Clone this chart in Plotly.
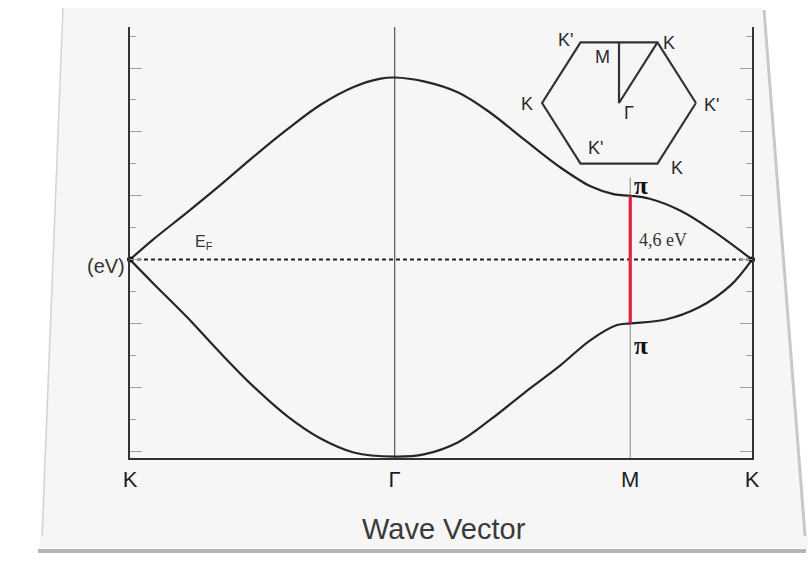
import plotly.graph_objects as go

# High-symmetry points along the path K - Γ - M - K
K_POS = [0.0, 1.0, 1.89, 2.35]
K_LABELS = ["K", "Γ", "M", "K"]

# π band (upper, anti-bonding) energies in eV
k_upper = [0.0, 0.087, 0.216, 0.341, 0.466, 0.595, 0.72, 0.845, 0.947, 1.0,
           1.11, 1.24, 1.36, 1.49, 1.62, 1.74, 1.83, 1.89, 1.96, 2.08, 2.20, 2.35]
e_upper = [0.0, 0.72, 1.70, 2.68, 3.70, 4.70, 5.58, 6.22, 6.52, 6.56,
           6.42, 6.02, 5.30, 4.32, 3.36, 2.64, 2.35, 2.30, 2.20, 1.76, 1.05, 0.0]

# π band (lower, bonding) energies in eV
k_lower = [0.0, 0.087, 0.216, 0.341, 0.466, 0.595, 0.72, 0.845, 1.0,
           1.11, 1.24, 1.36, 1.49, 1.62, 1.74, 1.84, 1.89, 2.02, 2.15, 2.27, 2.35]
e_lower = [0.0, -0.85, -2.08, -3.36, -4.57, -5.65, -6.45, -6.95, -7.10,
           -7.02, -6.58, -5.78, -4.80, -3.86, -2.90, -2.36, -2.30, -2.17, -1.72, -0.92, 0.0]

GAP_EV = 4.6          # π - π* splitting at M
E_FERMI = 0.0
M_LINE_TOP = 2.95
E_RANGE = [-7.15, 8.38]

# First Brillouin zone (hexagon) and the irreducible path
hex_u = [1.0, 0.5, -0.5, -1.0, -0.5, 0.5, 1.0]
hex_v = [0.0, 0.866, 0.866, 0.0, -0.866, -0.866, 0.0]
path_u = [0.0, 0.0, 0.5]          # M -> Γ -> K
path_v = [0.866, 0.0, 0.866]
bz_labels = ["K'", "K", "K", "K'", "K'", "K", "M", "Γ"]
bz_lab_u = [-0.70, 0.65, -1.19, 1.20, -0.31, 0.76, -0.21, 0.13]
bz_lab_v = [0.90, 0.86, -0.01, -0.03, -0.64, -0.93, 0.66, -0.14]

W, H = 808, 562
L, R, T, B = 130, 56, 27, 104
PW, PH = W - L - R, H - T - B


def fx(px):
    return (px - L) / PW


def fy(py):
    return (H - B - py) / PH


SANS = "Liberation Sans, Arial, sans-serif"
SERIF = "Liberation Serif, Times New Roman, serif"
INK = "#262626"

fig = go.Figure()

# Γ and M reference lines
fig.add_trace(go.Scatter(x=[K_POS[1], K_POS[1]], y=E_RANGE, mode="lines",
                         line=dict(color="#555555", width=1.2), hoverinfo="skip"))
fig.add_trace(go.Scatter(x=[K_POS[2], K_POS[2]], y=[E_RANGE[0], M_LINE_TOP], mode="lines",
                         line=dict(color="#8f9f90", width=1.2), hoverinfo="skip"))

# Fermi level
fig.add_trace(go.Scatter(x=[K_POS[0], K_POS[-1]], y=[E_FERMI, E_FERMI], mode="lines",
                         line=dict(color="#222222", width=2, dash="4px,3px"), hoverinfo="skip"))

# Bands
for kk, ee in ((k_upper, e_upper), (k_lower, e_lower)):
    fig.add_trace(go.Scatter(x=kk, y=ee, mode="lines",
                             line=dict(color=INK, width=2.2, shape="spline", smoothing=1.0),
                             hoverinfo="skip"))

# Gap at M
fig.add_trace(go.Scatter(x=[K_POS[2], K_POS[2]], y=[GAP_EV / 2, -GAP_EV / 2], mode="lines",
                         line=dict(color="#e0203c", width=3.2), hoverinfo="skip"))

# Dirac points
fig.add_trace(go.Scatter(x=[K_POS[0], K_POS[-1]], y=[E_FERMI, E_FERMI], mode="markers",
                         marker=dict(color="#111111", size=6), hoverinfo="skip", cliponaxis=False))

# Brillouin-zone inset
fig.add_trace(go.Scatter(x=hex_u, y=hex_v, xaxis="x2", yaxis="y2", mode="lines",
                         line=dict(color="#333333", width=2.2), hoverinfo="skip"))
fig.add_trace(go.Scatter(x=path_u, y=path_v, xaxis="x2", yaxis="y2", mode="lines",
                         line=dict(color="#333333", width=2.2), hoverinfo="skip"))

annotations = []
for t, u, v in zip(bz_labels, bz_lab_u, bz_lab_v):
    annotations.append(dict(x=u, y=v, xref="x2", yref="y2", text=t, showarrow=False,
                            font=dict(family=SANS, size=18, color="#2a2a2a")))

annotations += [
    dict(x=0.28, y=0.62, xref="x", yref="y", text="E<sub>F</sub>", showarrow=False,
         font=dict(family=SANS, size=16, color="#333333")),
    dict(x=K_POS[0], y=E_FERMI, xref="x", yref="y", text="(eV)", showarrow=False,
         xanchor="right", xshift=-3, yshift=-6,
         font=dict(family=SANS, size=20, color="#333333")),
    dict(x=1.93, y=2.66, xref="x", yref="y", text="<b>π</b>", showarrow=False,
         font=dict(family=SERIF, size=25, color="#111111")),
    dict(x=1.93, y=-3.1, xref="x", yref="y", text="<b>π</b>", showarrow=False,
         font=dict(family=SERIF, size=25, color="#111111")),
    dict(x=1.915, y=0.72, xref="x", yref="y", text="4,6 eV", showarrow=False,
         xanchor="left", font=dict(family=SERIF, size=18, color="#333333")),
    dict(x=fx(444), y=fy(547), xref="paper", yref="paper", text="Wave Vector",
         showarrow=False, font=dict(family=SANS, size=29, color="#3a3a3a")),
]

# Sheet of paper behind the chart, with its shadowed edges
shapes = [
    dict(type="path", xref="paper", yref="paper", layer="below",
         path=f"M {fx(63)} {fy(8)} L {fx(762)} {fy(8)} L {fx(806)} {fy(548)} L {fx(40)} {fy(548)} Z",
         fillcolor="#f6f6f6", line=dict(width=0)),
    dict(type="line", xref="paper", yref="paper", layer="below",
         x0=fx(63), y0=fy(8), x1=fx(42), y1=fy(540), line=dict(color="#d4d4d4", width=1.5)),
    dict(type="line", xref="paper", yref="paper", layer="below",
         x0=fx(764), y0=fy(10), x1=fx(806), y1=fy(548), line=dict(color="#c8c8c8", width=3)),
    dict(type="rect", xref="paper", yref="paper", layer="above",
         x0=fx(40), y0=fy(548), x1=fx(808), y1=fy(536), fillcolor="#f6f6f6", line=dict(width=0)),
    dict(type="line", xref="paper", yref="paper", layer="above",
         x0=fx(38), y0=fy(551), x1=fx(806), y1=fy(551), line=dict(color="#b5b5b5", width=4)),
]

fig.update_layout(
    width=W, height=H,
    margin=dict(l=L, r=R, t=T, b=B),
    paper_bgcolor="white",
    plot_bgcolor="rgba(0,0,0,0)",
    showlegend=False,
    annotations=annotations,
    shapes=shapes,
    xaxis=dict(range=[K_POS[0], K_POS[-1]], showgrid=False, zeroline=False,
               showline=True, linecolor="#333333", linewidth=2.2,
               tickmode="array", tickvals=K_POS, ticktext=K_LABELS, ticks="",
               tickfont=dict(family=SANS, size=22, color="#1e1e1e")),
    yaxis=dict(range=E_RANGE, showgrid=False, zeroline=False,
               showline=True, linecolor="#333333", linewidth=2.2, mirror="ticks",
               ticks="inside", tick0=0, dtick=GAP_EV / 2, ticklen=12, tickwidth=1.3,
               tickcolor="#a0a0a0", showticklabels=False,
               minor=dict(ticks="inside", tick0=0, dtick=GAP_EV / 4, ticklen=6,
                          tickwidth=1.3, tickcolor="#a0a0a0")),
    xaxis2=dict(domain=[fx(519), fx(719)], range=[-1.3, 1.3], visible=False, anchor="y2"),
    yaxis2=dict(domain=[fy(178.5), fy(27.5)], range=[-1.08, 1.08], visible=False, anchor="x2"),
)

fig.write_html("out.html")
